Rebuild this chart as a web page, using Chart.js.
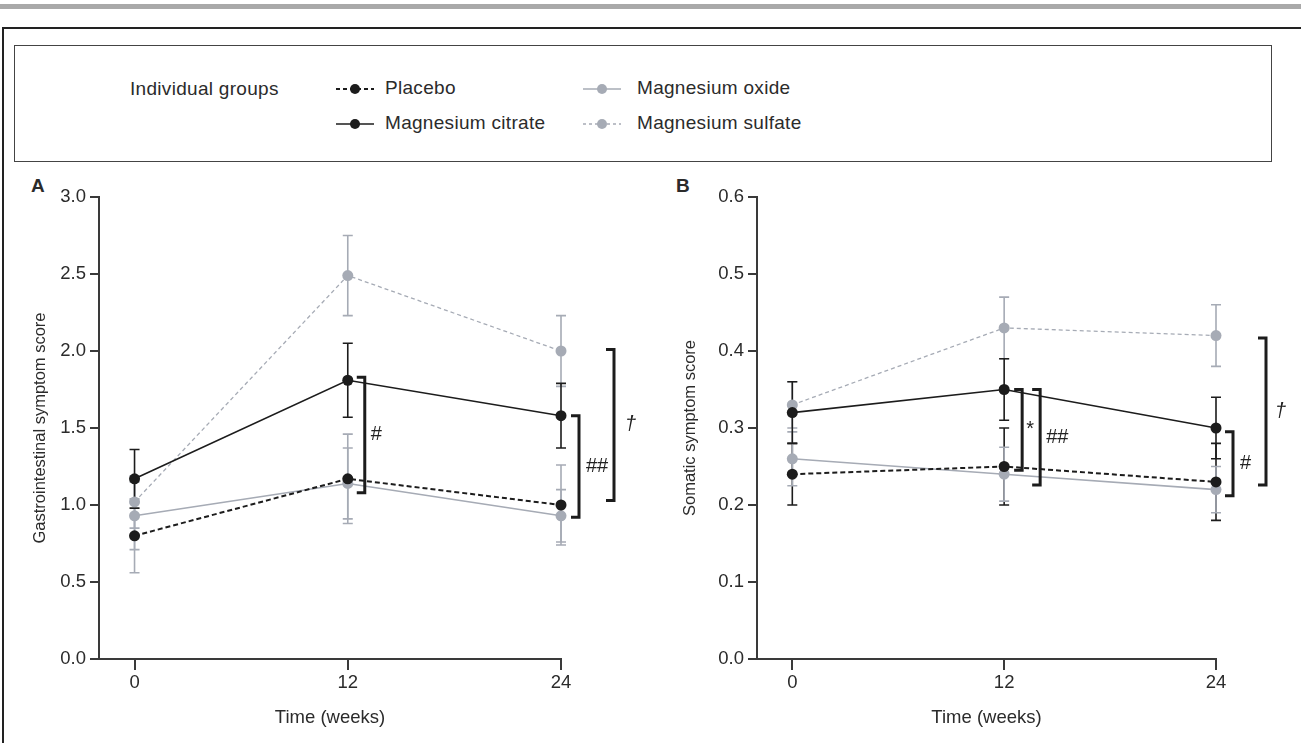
<!DOCTYPE html>
<html>
<head>
<meta charset="utf-8">
<script src="https://cdn.jsdelivr.net/npm/chart.js@4.4.1/dist/chart.umd.min.js"></script>
<style>
  body { margin: 0; width: 1301px; height: 743px; background: #fff; overflow: hidden; position: relative;
         font-family: "Liberation Sans", Arial, sans-serif; color: #2b2b2b; }
  #topbar { position: absolute; left: 0; top: 4px; width: 1301px; height: 5px; background: #a9a9a9; }
  #frame { position: absolute; left: 2px; top: 27px; width: 1299px; height: 716px;
           border-top: 2px solid #222; border-left: 2px solid #222; }
  #legend { position: absolute; left: 14px; top: 45px; width: 1256px; height: 115px; border: 1.5px solid #444; }
  .lg { position: absolute; font-size: 19px; line-height: 22px; white-space: nowrap; letter-spacing: 0.3px; }
  .ic { position: absolute; }
  .panel { position: absolute; font-weight: bold; font-size: 19px; }
  canvas { position: absolute; }
</style>
</head>
<body>
<div id="topbar"></div>
<div id="frame"></div>
<div id="legend"></div>
<div class="lg" style="left:130px; top:78px;">Individual groups</div>
<div id="legendItems"></div>
<div class="panel" style="left:31px; top:175px;">A</div>
<div class="panel" style="left:676px; top:175px;">B</div>
<canvas id="chartA" width="640" height="573" style="left:0; top:170px;"></canvas>
<canvas id="chartB" width="651" height="573" style="left:650px; top:170px;"></canvas>
<script>
// weeks on the x axis
const weeks = [0, 12, 24];
const groups = ['Placebo', 'Magnesium citrate', 'Magnesium oxide', 'Magnesium sulfate'];

// A: gastrointestinal symptom score (mean, error)
const placeboA = [0.80, 1.17, 1.00];
const citrateA = [1.17, 1.81, 1.58];
const oxideA = [0.93, 1.14, 0.93];
const sulfateA = [1.02, 2.49, 2.00];
const placeboErrA = [0.24, 0.29, 0.26];
const citrateErrA = [0.19, 0.24, 0.21];
const oxideErrA = [0.22, 0.23, 0.17];
const sulfateErrA = [0.17, 0.26, 0.23];

// B: somatic symptom score (mean, error)
const placeboB = [0.24, 0.25, 0.23];
const citrateB = [0.32, 0.35, 0.30];
const oxideB = [0.26, 0.24, 0.22];
const sulfateB = [0.33, 0.43, 0.42];
const placeboErrB = [0.04, 0.05, 0.05];
const citrateErrB = [0.04, 0.04, 0.04];
const oxideErrB = [0.035, 0.035, 0.03];
const sulfateErrB = [0.03, 0.04, 0.04];

// significance brackets: week, top, bottom, label
const sigA = [
  { at: 12, top: 1.83, bottom: 1.08, text: '#' },
  { at: 24, top: 1.58, bottom: 0.92, text: '##' },
  { at: 24, top: 2.01, bottom: 1.03, text: '†' }
];
const sigB = [
  { at: 12, top: 0.35, bottom: 0.245, text: '*' },
  { at: 12, top: 0.35, bottom: 0.226, text: '##' },
  { at: 24, top: 0.295, bottom: 0.212, text: '#' },
  { at: 24, top: 0.417, bottom: 0.226, text: '†' }
];

const BLACK = '#1c1c1c';
const GRAY = '#a6abb5';
const AXIS = '#3a3a3a';
const FONT = '"Liberation Sans", Arial, sans-serif';

// legend in html
const legendDefs = [
  { name: groups[0], col: 0, row: 0, color: BLACK, dash: '4 3', w: 2 },
  { name: groups[1], col: 0, row: 1, color: BLACK, dash: '', w: 1.6 },
  { name: groups[2], col: 1, row: 0, color: GRAY, dash: '', w: 1.6 },
  { name: groups[3], col: 1, row: 1, color: GRAY, dash: '3 3', w: 1.3 }
];
const legendItems = document.getElementById('legendItems');
legendDefs.forEach(d => {
  const x = d.col ? 583 : 336;
  const tx = d.col ? 637 : 385;
  const cy = d.row ? 124 : 89;
  legendItems.innerHTML +=
    `<svg class="ic" width="38" height="14" style="left:${x}px; top:${cy - 7}px">` +
    `<line x1="0" y1="7" x2="38" y2="7" stroke="${d.color}" stroke-width="${d.w}" stroke-dasharray="${d.dash}"/>` +
    `<circle cx="19" cy="7" r="5" fill="${d.color}"/></svg>` +
    `<div class="lg" style="left:${tx}px; top:${cy - 12}px">${d.name}</div>`;
});

const errorBars = {
  id: 'errorBars',
  beforeDatasetsDraw(chart) {
    const { ctx, scales: { x, y } } = chart;
    const list = chart.data.datasets.slice().sort((a, b) => a.errLayer - b.errLayer);
    ctx.save();
    list.forEach(ds => {
      ctx.strokeStyle = ds.errColor;
      ctx.lineWidth = 1.6;
      ds.data.forEach((p, i) => {
        const px = x.getPixelForValue(p.x);
        const yt = y.getPixelForValue(p.y + ds.err[i]);
        const yb = y.getPixelForValue(p.y - ds.err[i]);
        ctx.beginPath();
        ctx.moveTo(px, yt); ctx.lineTo(px, yb);
        ctx.moveTo(px - 5, yt); ctx.lineTo(px + 5, yt);
        ctx.moveTo(px - 5, yb); ctx.lineTo(px + 5, yb);
        ctx.stroke();
      });
    });
    ctx.restore();
  }
};

function makeBrackets(items, offsets, gaps) {
  return {
    id: 'brackets',
    afterDatasetsDraw(chart) {
      const { ctx, scales: { x, y } } = chart;
      ctx.save();
      items.forEach((b, i) => {
        const vx = x.getPixelForValue(b.at) + offsets[i];
        const y1 = y.getPixelForValue(b.top);
        const y2 = y.getPixelForValue(b.bottom);
        ctx.strokeStyle = BLACK;
        ctx.lineWidth = 3;
        ctx.beginPath();
        ctx.moveTo(vx - 8, y1); ctx.lineTo(vx, y1); ctx.lineTo(vx, y2); ctx.lineTo(vx - 8, y2);
        ctx.stroke();
        ctx.fillStyle = '#222';
        ctx.font = (b.text === '†' ? 'italic ' : '') + '20px ' + FONT;
        ctx.textAlign = 'left';
        ctx.textBaseline = 'middle';
        ctx.fillText(b.text, vx + gaps[i], (y1 + y2) / 2);
      });
      ctx.restore();
    }
  };
}

function pts(vals) {
  return vals.map((v, i) => ({ x: weeks[i], y: v }));
}

function buildChart(id, series, errs, yMax, yStep, yTitle, scaleWidth, placeboErrColor, brackets) {
  const tickFont = { family: FONT, size: 18.5 };
  const datasets = [
    { label: groups[0], data: pts(series[0]), err: errs[0], errColor: placeboErrColor, errLayer: 0,
      borderColor: BLACK, backgroundColor: BLACK, borderWidth: 2, borderDash: [5, 3], order: 2 },
    { label: groups[1], data: pts(series[1]), err: errs[1], errColor: BLACK, errLayer: 3,
      borderColor: BLACK, backgroundColor: BLACK, borderWidth: 1.6, order: 1 },
    { label: groups[2], data: pts(series[2]), err: errs[2], errColor: GRAY, errLayer: 1,
      borderColor: GRAY, backgroundColor: GRAY, borderWidth: 1.6, order: 3 },
    { label: groups[3], data: pts(series[3]), err: errs[3], errColor: GRAY, errLayer: 2,
      borderColor: GRAY, backgroundColor: GRAY, borderWidth: 1.3, borderDash: [4, 3], order: 4 }
  ];
  datasets.forEach(d => {
    d.pointRadius = 5.5;
    d.pointBorderWidth = 0;
    d.tension = 0;
    d.clip = false;
  });
  return new Chart(document.getElementById(id), {
    type: 'line',
    data: { datasets },
    plugins: [errorBars, brackets],
    options: {
      responsive: false,
      animation: false,
      layout: { padding: { left: 26, top: 27, right: scaleWidth.right, bottom: 0 } },
      plugins: { legend: { display: false }, tooltip: { enabled: false } },
      scales: {
        x: {
          type: 'linear', min: -2, max: 24,
          afterBuildTicks: s => { s.ticks = weeks.map(v => ({ value: v })); },
          afterFit: s => { s.height = 84; },
          border: { display: true, color: AXIS, width: 2 },
          grid: { drawOnChartArea: false, drawTicks: true, tickLength: 11, color: AXIS, lineWidth: 2 },
          ticks: { color: '#2b2b2b', font: tickFont, padding: 2, maxRotation: 0 },
          title: { display: true, text: 'Time (weeks)', color: '#2b2b2b',
                   font: { family: FONT, size: 18.5 }, padding: { top: 4, bottom: 14 } }
        },
        y: {
          min: 0, max: yMax,
          afterBuildTicks: s => {
            const t = [];
            for (let v = 0; v <= yMax + 1e-9; v += yStep) t.push({ value: Math.round(v * 10) / 10 });
            s.ticks = t;
          },
          afterFit: s => { s.width = scaleWidth.left; },
          border: { display: true, color: AXIS, width: 2 },
          grid: { drawOnChartArea: false, drawTicks: true, tickLength: 9, color: AXIS, lineWidth: 2 },
          ticks: { color: '#2b2b2b', font: tickFont, padding: 4, callback: v => v.toFixed(1) },
          title: { display: true, text: yTitle, color: '#2b2b2b',
                   font: { family: FONT, size: 16.5 }, padding: { top: 5, bottom: 4 } }
        }
      }
    }
  });
}

buildChart('chartA',
  [placeboA, citrateA, oxideA, sulfateA],
  [placeboErrA, citrateErrA, oxideErrA, sulfateErrA],
  3.0, 0.5, 'Gastrointestinal symptom score', { left: 73, right: 79 }, GRAY,
  makeBrackets(sigA, [17, 18, 53], [6, 7, 11]));

buildChart('chartB',
  [placeboB, citrateB, oxideB, sulfateB],
  [placeboErrB, citrateErrB, oxideErrB, sulfateErrB],
  0.6, 0.1, 'Somatic symptom score', { left: 81, right: 85 }, BLACK,
  makeBrackets(sigB, [18, 36, 17, 50], [4, 6, 7, 9]));
</script>
</body>
</html>
